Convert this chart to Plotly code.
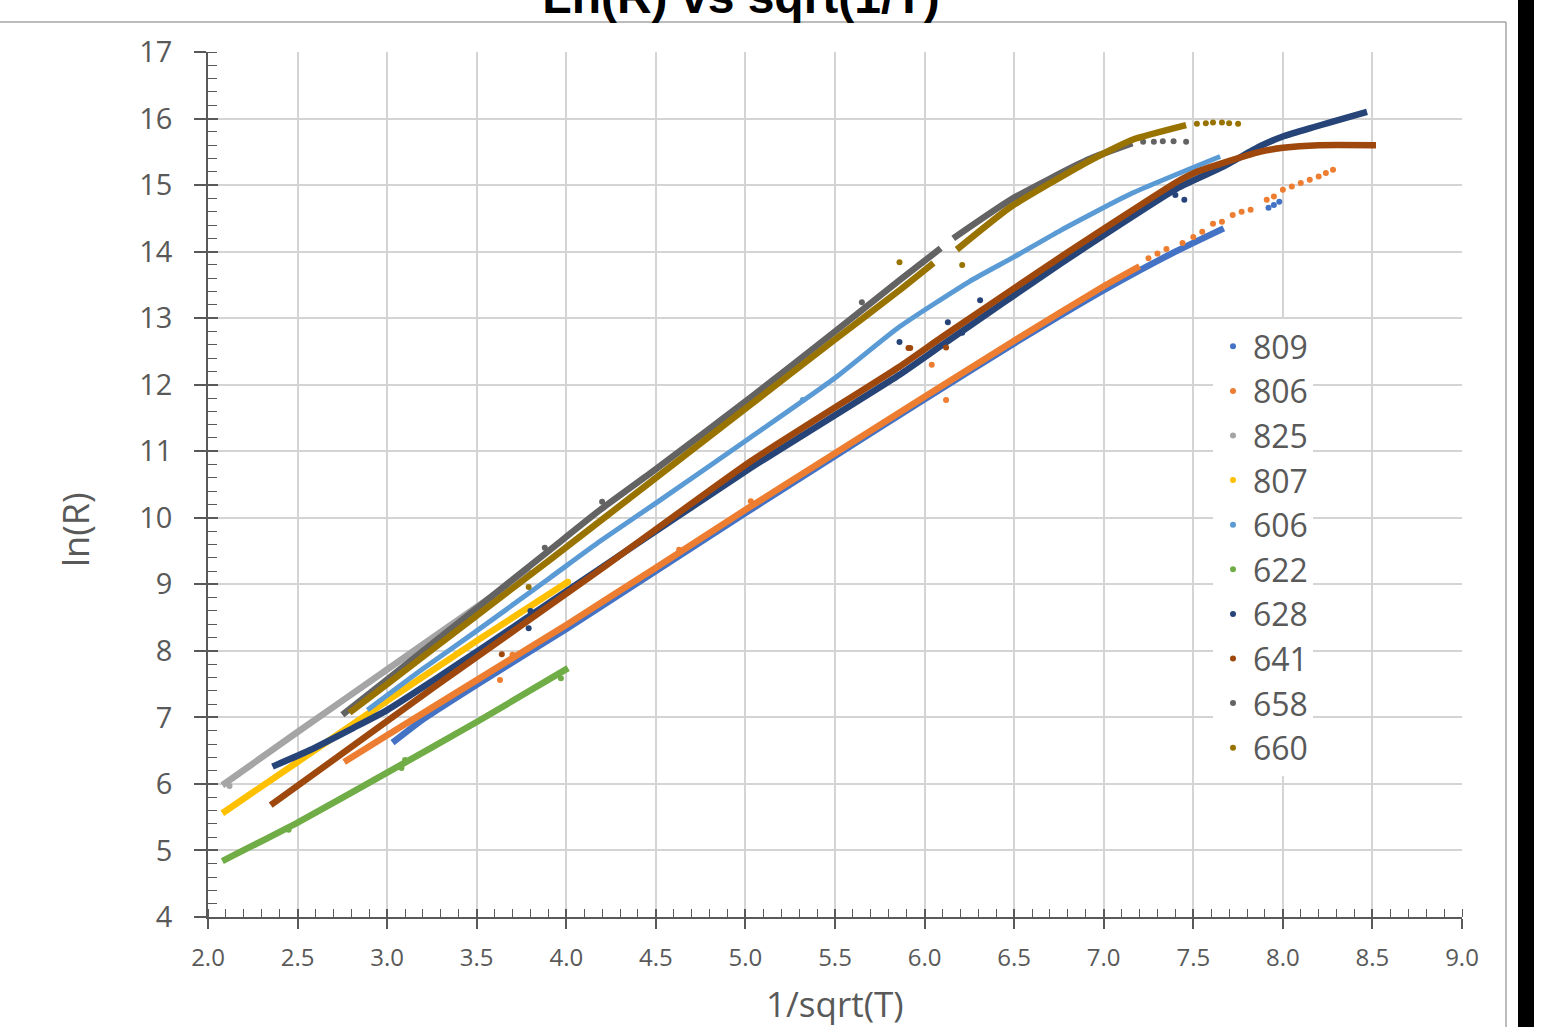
import plotly.graph_objects as go

# ---------------- data ----------------
series_names = ["809", "806", "825", "807", "606", "622", "628", "641", "658", "660"]
series_colors = ["#4472C4", "#ED7D31", "#A5A5A5", "#FFC000", "#5B9BD5",
                 "#70AD47", "#264478", "#9E480E", "#636363", "#997300"]

# dense runs of points (x = 1/sqrt(T), y = ln(R)); None separates gaps
run_x_809 = [3.03, 3.2, 3.5, 4.0, 4.5, 5.0, 5.5, 6.0, 6.5, 7.0, 7.4, 7.67]
run_y_809 = [6.62, 6.97, 7.49, 8.33, 9.2, 10.07, 10.93, 11.78, 12.62, 13.42, 14.0, 14.35]
dot_x_809 = [7.92, 7.95, 7.98]
dot_y_809 = [14.66, 14.70, 14.75]

run_x_806 = [2.76, 3.0, 3.5, 4.0, 4.5, 5.0, 5.5, 6.0, 6.5, 7.0, 7.2]
run_y_806 = [6.33, 6.73, 7.56, 8.39, 9.25, 10.12, 10.97, 11.82, 12.66, 13.48, 13.78]
dot_x_806 = [3.63, 3.70, 4.63, 5.03, 6.04, 6.12, 7.25, 7.30, 7.35, 7.44, 7.50, 7.55, 7.61,
             7.66, 7.72, 7.77, 7.82, 7.91, 7.95, 8.00, 8.05, 8.10, 8.15, 8.20, 8.24, 8.28]
dot_y_806 = [7.56, 7.94, 9.52, 10.25, 12.30, 11.77, 13.90, 13.97, 14.04, 14.13, 14.22, 14.30, 14.42,
             14.45, 14.55, 14.60, 14.63, 14.78, 14.83, 14.93, 14.98, 15.03, 15.08, 15.13, 15.18, 15.23]

run_x_825 = [2.08, 2.5, 3.0, 3.5, 3.8]
run_y_825 = [5.98, 6.78, 7.72, 8.66, 9.22]
dot_x_825 = [2.12]
dot_y_825 = [5.97]

run_x_807 = [2.08, 2.5, 3.0, 3.5, 4.01]
run_y_807 = [5.56, 6.33, 7.25, 8.15, 9.04]
dot_x_807 = [4.01]
dot_y_807 = [9.04]

run_x_606 = [2.89, 3.2, 3.5, 3.91, 4.19, 4.5, 5.03, 5.5, 5.86, 6.25, 6.5, 6.76, 7.16, 7.65]
run_y_606 = [7.11, 7.73, 8.3, 9.1, 9.65, 10.22, 11.21, 12.1, 12.87, 13.55, 13.92, 14.32, 14.88, 15.43]
dot_x_606 = [5.32]
dot_y_606 = [11.77]

run_x_622 = [2.08, 2.5, 3.0, 3.5, 4.01]
run_y_622 = [4.84, 5.42, 6.17, 6.93, 7.74]
dot_x_622 = [2.45, 3.08, 3.10, 3.97]
dot_y_622 = [5.31, 6.24, 6.36, 7.59]

run_x_628 = [2.36, 2.57, 2.81, 3.0, 3.26, 3.54, 3.81, 4.19, 5.03, 5.86, 6.10, 6.76, 7.41, 7.67, 7.87, 8.0, 8.47]
run_y_628 = [6.26, 6.51, 6.84, 7.11, 7.56, 8.06, 8.55, 9.24, 10.75, 12.15, 12.6, 13.82, 14.95, 15.28, 15.58, 15.73, 16.10]
dot_x_628 = [3.79, 3.80, 5.86, 6.13, 6.21, 6.31, 7.10, 7.40, 7.45]
dot_y_628 = [8.34, 8.60, 12.64, 12.94, 12.78, 13.27, 14.45, 14.85, 14.78]

run_x_641 = [2.35, 3.26, 4.19, 5.03, 5.86, 6.10, 6.76, 7.41, 7.52, 7.72, 7.87, 8.0, 8.2, 8.52]
run_y_641 = [5.68, 7.45, 9.22, 10.85, 12.27, 12.72, 13.92, 15.05, 15.20, 15.38, 15.50, 15.56, 15.60, 15.60]
dot_x_641 = [3.64, 5.91, 5.92, 6.12, 6.17]
dot_y_641 = [7.95, 12.55, 12.55, 12.56, 12.85]

run_x_658 = [2.75, 3.0, 3.5, 3.91, 4.19, 4.5, 5.03, 5.5, 5.86, 6.09, None, 6.16, 6.48, 6.91, 7.16]
run_y_658 = [7.04, 7.57, 8.64, 9.52, 10.12, 10.73, 11.81, 12.8, 13.57, 14.05, None, 14.2, 14.78, 15.38, 15.63]
dot_x_658 = [3.88, 4.20, 5.65, 7.22, 7.28, 7.33, 7.39, 7.46]
dot_y_658 = [9.55, 10.24, 13.24, 15.65, 15.65, 15.66, 15.66, 15.65]

run_x_660 = [2.79, 3.0, 3.5, 3.91, 4.5, 5.0, 5.5, 5.86, 6.05, None, 6.18, 6.48, 6.91, 7.16, 7.46]
run_y_660 = [7.07, 7.5, 8.53, 9.37, 10.6, 11.64, 12.68, 13.42, 13.83, None, 14.03, 14.67, 15.35, 15.68, 15.9]
dot_x_660 = [3.79, 5.86, 6.21, 7.52, 7.57, 7.61, 7.66, 7.70, 7.75]
dot_y_660 = [8.96, 13.84, 13.80, 15.92, 15.93, 15.94, 15.94, 15.93, 15.92]

x_range = [2.0, 9.0]
y_range = [4, 17]

title_text = "Ln(R) vs sqrt(1/T)"
x_title = "1/sqrt(T)"
y_title = "ln(R)"

# ---------------- figure ----------------
runs = {
    "809": (run_x_809, run_y_809, dot_x_809, dot_y_809),
    "806": (run_x_806, run_y_806, dot_x_806, dot_y_806),
    "825": (run_x_825, run_y_825, dot_x_825, dot_y_825),
    "807": (run_x_807, run_y_807, dot_x_807, dot_y_807),
    "606": (run_x_606, run_y_606, dot_x_606, dot_y_606),
    "622": (run_x_622, run_y_622, dot_x_622, dot_y_622),
    "628": (run_x_628, run_y_628, dot_x_628, dot_y_628),
    "641": (run_x_641, run_y_641, dot_x_641, dot_y_641),
    "658": (run_x_658, run_y_658, dot_x_658, dot_y_658),
    "660": (run_x_660, run_y_660, dot_x_660, dot_y_660),
}

TXT = "#595959"
FONT = "Open Sans"

fig = go.Figure()
for name, col in zip(series_names, series_colors):
    rx, ry, dx, dy = runs[name]
    lw = 5 if name == "606" else 6.5
    fig.add_trace(go.Scatter(x=rx, y=ry, mode="lines", legendgroup=name, showlegend=False,
                             line=dict(color=col, width=lw, shape="spline", smoothing=0.5),
                             hoverinfo="skip"))
    fig.add_trace(go.Scatter(x=dx, y=dy, mode="markers", name=name, legendgroup=name,
                             marker=dict(color=col, size=6)))

# overlay axes used only for the inner half of the crossing major ticks
fig.add_trace(go.Scatter(x=[None], y=[None], xaxis="x2", yaxis="y2", showlegend=False,
                         hoverinfo="skip"))

W, H = 1553, 1027
L, R, T, B = 208, 1462, 52, 917


def px_to_paper_x(px):
    return (px - L) / (R - L)


def px_to_paper_y(py):
    return (B - py) / (B - T)


axis_common = dict(showline=True, linecolor=TXT, linewidth=1.5, zeroline=False,
                   gridcolor="#D4D4D4", gridwidth=1.5, ticks="outside", tickcolor=TXT,
                   tickwidth=1.5)

fig.update_layout(
    width=W, height=H,
    margin=dict(l=L, r=W - R, t=T, b=H - B, pad=0),
    paper_bgcolor="white", plot_bgcolor="white",
    showlegend=True,
    legend=dict(x=px_to_paper_x(1213), y=px_to_paper_y(319), xanchor="left", yanchor="top",
                bgcolor="white", borderwidth=0,
                font=dict(family=FONT, size=32, color=TXT),
                itemsizing="trace", tracegroupgap=0),
    xaxis=dict(range=x_range, dtick=0.5, tick0=2, tickformat=".1f", ticklen=10,
               ticklabelstandoff=8,
               tickfont=dict(family=FONT, size=24, color=TXT),
               minor=dict(ticks="inside", dtick=0.1, ticklen=8, tickcolor=TXT, tickwidth=1.3,
                          showgrid=False),
               **axis_common),
    yaxis=dict(range=y_range, dtick=1, tick0=4, ticklen=12, ticklabelstandoff=16,
               tickfont=dict(family=FONT, size=29, color=TXT),
               minor=dict(ticks="inside", dtick=0.2, ticklen=9, tickcolor=TXT, tickwidth=1.3,
                          showgrid=False),
               **axis_common),
    xaxis2=dict(range=x_range, overlaying="x", anchor="y", side="bottom", dtick=0.5, tick0=2,
                ticks="inside", ticklen=8, tickcolor=TXT, tickwidth=1.5,
                showticklabels=False, showgrid=False, showline=False, zeroline=False),
    yaxis2=dict(range=y_range, overlaying="y", anchor="x", side="left", dtick=1, tick0=4,
                ticks="inside", ticklen=10, tickcolor=TXT, tickwidth=1.5,
                showticklabels=False, showgrid=False, showline=False, zeroline=False),
    title=dict(text="<b>" + title_text + "</b>", x=741 / W, xanchor="center",
               y=1 - 13 / H, yanchor="bottom", yref="container",
               font=dict(family="Liberation Sans", size=48, color="black")),
    annotations=[
        dict(text=x_title, xref="paper", yref="paper", x=px_to_paper_x(835), y=px_to_paper_y(1003),
             xanchor="center", yanchor="middle", showarrow=False,
             font=dict(family=FONT, size=35, color=TXT)),
        dict(text=y_title, xref="paper", yref="paper", x=px_to_paper_x(75), y=px_to_paper_y(530),
             xanchor="center", yanchor="middle", showarrow=False, textangle=-90,
             font=dict(family=FONT, size=36, color=TXT)),
    ],
    shapes=[
        dict(type="line", xref="paper", yref="paper", x0=px_to_paper_x(0), x1=px_to_paper_x(1506),
             y0=px_to_paper_y(22), y1=px_to_paper_y(22), line=dict(color="#A6A6A6", width=1.5)),
        dict(type="line", xref="paper", yref="paper", x0=px_to_paper_x(1506), x1=px_to_paper_x(1506),
             y0=px_to_paper_y(22), y1=px_to_paper_y(1030), line=dict(color="#A6A6A6", width=1.5)),
        dict(type="rect", xref="paper", yref="paper", x0=px_to_paper_x(1518), x1=px_to_paper_x(1534),
             y0=px_to_paper_y(1030), y1=px_to_paper_y(-2), fillcolor="black",
             line=dict(width=0)),
    ],
)

fig.write_html("out.html", config={"displayModeBar": False},
               post_script="document.body.style.margin='0px';")
